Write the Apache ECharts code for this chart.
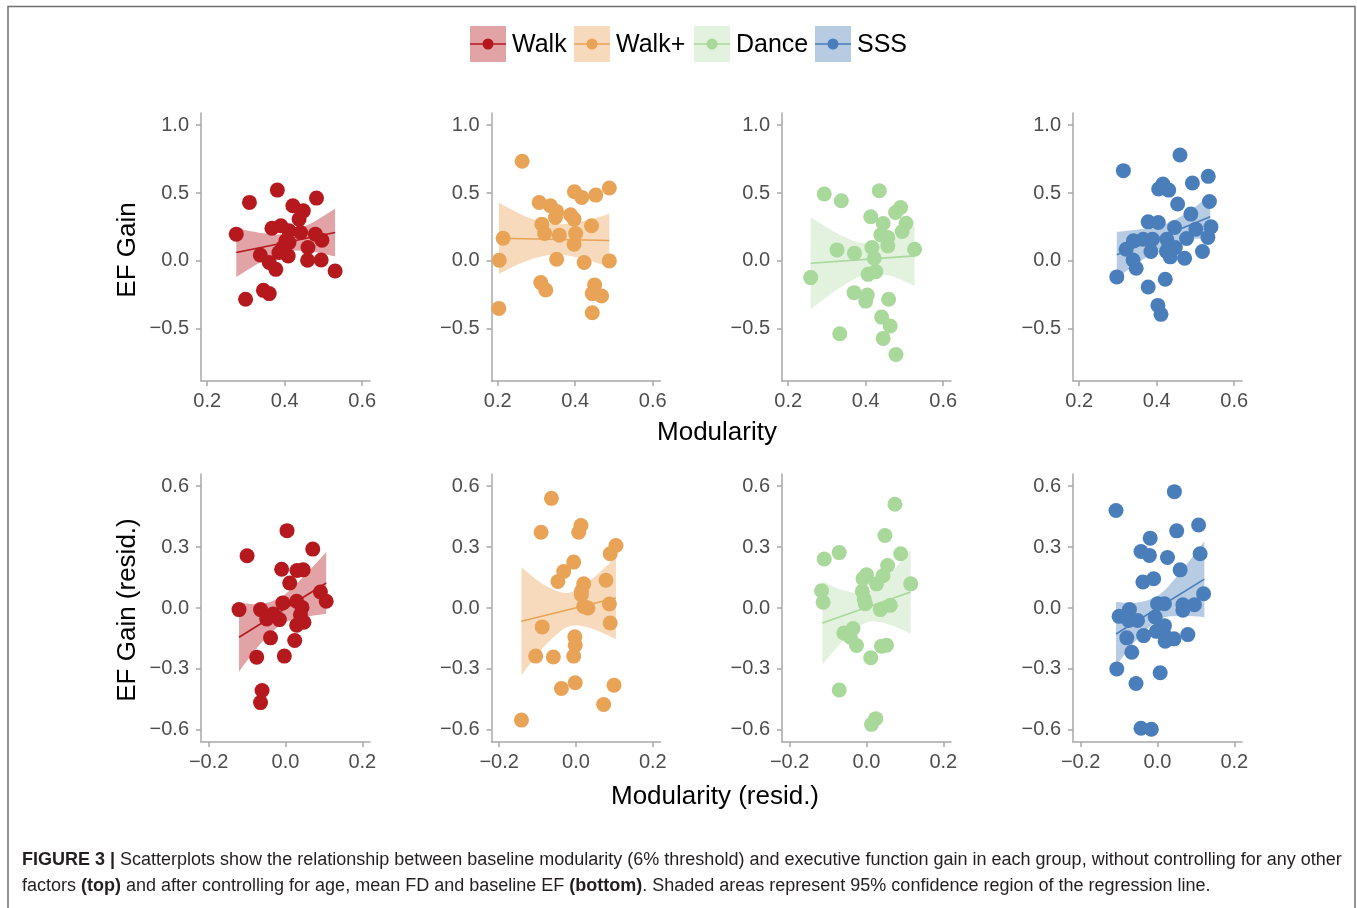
<!DOCTYPE html>
<html>
<head>
<meta charset="utf-8">
<script src="https://cdn.jsdelivr.net/npm/echarts@6/dist/echarts.min.js"></script>
<style>
html,body{margin:0;padding:0;background:#fff;}
#chart{width:1357px;height:908px;}
</style>
</head>
<body>
<div id="chart"></div>
<script>
// ---------- data ----------
const groups = ['Walk', 'Walk+', 'Dance', 'SSS'];
const groupColors = ['#b5191e', '#e8a356', '#a8d89a', '#4a7eba'];

const topXTicks = [0.2, 0.4, 0.6];
const topYTicks = [-0.5, 0, 0.5, 1.0];
const botXTicks = [-0.2, 0, 0.2];
const botYTicks = [-0.6, -0.3, 0, 0.3, 0.6];

// top row: Modularity vs EF Gain
const walkTopX = [0.275,0.309,0.381,0.482,0.421,0.448,0.437,0.367,0.39,0.411,0.441,0.479,0.496,0.403,0.411,0.395,0.385,0.409,0.337,0.36,0.377,0.46,0.459,0.494,0.53,0.345,0.36,0.299];
const walkTopY = [0.197,0.431,0.522,0.463,0.406,0.369,0.308,0.241,0.259,0.222,0.209,0.197,0.153,0.148,0.135,0.099,0.062,0.037,0.044,-0.012,-0.062,0.099,0.005,0.007,-0.074,-0.217,-0.241,-0.283];
const walkPlusTopX = [0.263,0.398,0.417,0.453,0.488,0.307,0.336,0.352,0.349,0.388,0.397,0.314,0.321,0.359,0.401,0.397,0.442,0.214,0.204,0.352,0.423,0.488,0.311,0.324,0.45,0.444,0.468,0.203,0.444];
const walkPlusTopY = [0.734,0.51,0.468,0.485,0.537,0.431,0.406,0.365,0.32,0.34,0.308,0.271,0.202,0.19,0.202,0.123,0.259,0.167,0.005,0.012,-0.012,0.0,-0.16,-0.214,-0.177,-0.241,-0.259,-0.35,-0.382];
const danceTopX = [0.293,0.337,0.435,0.49,0.477,0.413,0.445,0.504,0.494,0.439,0.457,0.457,0.416,0.526,0.326,0.371,0.422,0.426,0.406,0.258,0.37,0.404,0.4,0.459,0.333,0.441,0.463,0.445,0.478];
const danceTopY = [0.493,0.443,0.517,0.394,0.357,0.325,0.276,0.278,0.217,0.192,0.172,0.111,0.099,0.086,0.081,0.057,0.02,-0.079,-0.099,-0.123,-0.234,-0.251,-0.296,-0.283,-0.537,-0.414,-0.48,-0.571,-0.69];
const sssTopX = [0.314,0.46,0.492,0.533,0.416,0.405,0.431,0.454,0.536,0.488,0.378,0.404,0.446,0.501,0.54,0.532,0.477,0.34,0.365,0.389,0.426,0.431,0.448,0.321,0.385,0.425,0.435,0.472,0.518,0.339,0.347,0.297,0.422,0.378,0.403,0.411];
const sssTopY = [0.665,0.781,0.574,0.623,0.567,0.53,0.522,0.419,0.438,0.345,0.288,0.283,0.246,0.234,0.251,0.172,0.165,0.148,0.16,0.16,0.16,0.099,0.099,0.086,0.069,0.069,0.03,0.02,0.069,0.007,-0.054,-0.118,-0.135,-0.192,-0.328,-0.394];

// bottom row: Modularity (resid.) vs EF Gain (resid.)
const walkBotX = [0.004,-0.1,0.071,-0.01,0.03,0.046,0.011,0.091,0.106,-0.121,-0.065,-0.049,-0.032,-0.016,-0.007,0.029,0.043,0.039,0.048,0.029,-0.039,0.024,-0.075,-0.003,-0.061,-0.065];
const walkBotY = [0.381,0.257,0.29,0.191,0.185,0.188,0.123,0.079,0.033,-0.008,-0.008,-0.054,-0.029,-0.057,0.025,0.033,0.003,-0.033,-0.07,-0.085,-0.147,-0.16,-0.242,-0.237,-0.406,-0.466];
const walkPlusBotX = [-0.064,-0.091,0.013,0.007,0.104,0.089,-0.006,-0.032,-0.047,0.02,0.078,0.014,0.014,0.02,0.031,0.087,0.089,-0.088,-0.003,-0.002,-0.105,-0.059,-0.006,-0.002,-0.038,0.099,0.072,-0.142];
const walkPlusBotY = [0.54,0.373,0.406,0.373,0.308,0.267,0.226,0.18,0.131,0.119,0.137,0.082,0.065,0.008,0.0,0.02,-0.074,-0.093,-0.142,-0.183,-0.237,-0.241,-0.237,-0.368,-0.396,-0.38,-0.475,-0.552];
const danceBotX = [0.074,0.048,-0.071,-0.11,0.089,0.055,0.043,0.0,-0.009,0.026,0.115,-0.117,-0.113,-0.011,-0.006,-0.003,0.036,0.062,-0.059,-0.035,-0.042,-0.026,0.039,0.052,0.011,-0.071,0.024,0.013];
const danceBotY = [0.511,0.357,0.273,0.241,0.267,0.209,0.159,0.164,0.144,0.119,0.119,0.085,0.028,0.082,0.044,0.021,-0.008,0.013,-0.123,-0.101,-0.144,-0.185,-0.188,-0.183,-0.245,-0.404,-0.545,-0.573];
const sssBotX = [0.044,-0.108,0.107,0.05,-0.019,-0.043,-0.021,0.026,0.111,0.059,-0.038,-0.01,0.12,0.0,0.018,0.066,0.096,0.066,-0.1,-0.073,-0.075,-0.052,-0.006,0.018,-0.003,0.016,-0.036,-0.08,0.043,0.02,0.079,-0.067,-0.106,0.007,-0.056,-0.043,-0.016];
const sssBotY = [0.573,0.48,0.409,0.38,0.344,0.278,0.259,0.249,0.267,0.188,0.128,0.144,0.07,0.021,0.021,0.016,0.016,-0.011,-0.041,-0.008,-0.061,-0.061,-0.044,-0.087,-0.115,-0.126,-0.136,-0.147,-0.152,-0.164,-0.131,-0.218,-0.3,-0.319,-0.372,-0.592,-0.597];

// regression lines (end points)
const walkTopFitX = [0.275, 0.53],  walkTopFitY = [0.062, 0.209];
const walkPlusTopFitX = [0.203, 0.488], walkPlusTopFitY = [0.167, 0.15];
const danceTopFitX = [0.258, 0.526], danceTopFitY = [-0.017, 0.037];
const sssTopFitX = [0.297, 0.538], sssTopFitY = [0.045, 0.325];
const walkBotFitX = [-0.121, 0.106], walkBotFitY = [-0.144, 0.123];
const walkPlusBotFitX = [-0.142, 0.104], walkPlusBotFitY = [-0.065, 0.049];
const danceBotFitX = [-0.115, 0.115], danceBotFitY = [-0.074, 0.079];
const sssBotFitX = [-0.108, 0.122], sssBotFitY = [-0.128, 0.142];

// 95% confidence bands (x, lower, upper)
const walkTopBandX = [0.275,0.339,0.402,0.466,0.53];
const walkTopBandLo = [-0.118,-0.008,0.07,0.07,0.034];
const walkTopBandHi = [0.242,0.206,0.2,0.274,0.384];
const walkPlusTopBandX = [0.203,0.274,0.346,0.417,0.488];
const walkPlusTopBandLo = [-0.095,0.0,0.047,0.018,-0.045];
const walkPlusTopBandHi = [0.429,0.326,0.271,0.29,0.345];
const danceTopBandX = [0.258,0.325,0.392,0.459,0.526];
const danceTopBandLo = [-0.356,-0.214,-0.11,-0.107,-0.183];
const danceTopBandHi = [0.322,0.206,0.13,0.155,0.257];
const sssTopBandX = [0.297,0.357,0.418,0.478,0.538];
const sssTopBandLo = [-0.125,-0.004,0.105,0.157,0.165];
const sssTopBandHi = [0.215,0.234,0.267,0.355,0.485];
const walkBotBandX = [-0.121,-0.064,-0.008,0.049,0.106];
const walkBotBandLo = [-0.314,-0.174,-0.078,-0.045,-0.028];
const walkBotBandHi = [0.026,0.02,0.058,0.159,0.274];
const walkPlusBotBandX = [-0.142,-0.081,-0.019,0.043,0.104];
const walkPlusBotBandLo = [-0.331,-0.186,-0.091,-0.103,-0.153];
const walkPlusBotBandHi = [0.201,0.112,0.075,0.145,0.251];
const danceBotBandX = [-0.115,-0.058,0.0,0.058,0.115];
const danceBotBandLo = [-0.279,-0.158,-0.071,-0.081,-0.126];
const danceBotBandHi = [0.131,0.086,0.077,0.163,0.284];
const sssBotBandX = [-0.108,-0.051,0.007,0.065,0.122];
const sssBotBandLo = [-0.285,-0.149,-0.055,-0.04,-0.045];
const sssBotBandHi = [0.029,0.027,0.069,0.19,0.329];

// ---------- panels ----------
const panels = [
  {g:0,row:0,x:walkTopX,y:walkTopY,fx:walkTopFitX,fy:walkTopFitY,bx:walkTopBandX,lo:walkTopBandLo,hi:walkTopBandHi},
  {g:1,row:0,x:walkPlusTopX,y:walkPlusTopY,fx:walkPlusTopFitX,fy:walkPlusTopFitY,bx:walkPlusTopBandX,lo:walkPlusTopBandLo,hi:walkPlusTopBandHi},
  {g:2,row:0,x:danceTopX,y:danceTopY,fx:danceTopFitX,fy:danceTopFitY,bx:danceTopBandX,lo:danceTopBandLo,hi:danceTopBandHi},
  {g:3,row:0,x:sssTopX,y:sssTopY,fx:sssTopFitX,fy:sssTopFitY,bx:sssTopBandX,lo:sssTopBandLo,hi:sssTopBandHi},
  {g:0,row:1,x:walkBotX,y:walkBotY,fx:walkBotFitX,fy:walkBotFitY,bx:walkBotBandX,lo:walkBotBandLo,hi:walkBotBandHi},
  {g:1,row:1,x:walkPlusBotX,y:walkPlusBotY,fx:walkPlusBotFitX,fy:walkPlusBotFitY,bx:walkPlusBotBandX,lo:walkPlusBotBandLo,hi:walkPlusBotBandHi},
  {g:2,row:1,x:danceBotX,y:danceBotY,fx:danceBotFitX,fy:danceBotFitY,bx:danceBotBandX,lo:danceBotBandLo,hi:danceBotBandHi},
  {g:3,row:1,x:sssBotX,y:sssBotY,fx:sssBotFitX,fy:sssBotFitY,bx:sssBotBandX,lo:sssBotBandLo,hi:sssBotBandHi}
];

const FONT = "'Liberation Sans', Arial, Helvetica, sans-serif";
const AXIS_COLOR = '#a8a8a8';
const LABEL_COLOR = '#4d4d4d';
const panelLefts = [201, 491.5, 782, 1073];
const rowTops = [113, 474];
const PW = 169, PH = 268;

function fmt(v) {
  return (v < 0 ? '\u2212' : '') + Math.abs(v).toFixed(1);
}

// smooth path (Catmull-Rom -> cubic Bezier) through pixel points
function curveTo(pts) {
  let d = '';
  for (let i = 0; i < pts.length - 1; i++) {
    const p0 = pts[Math.max(i - 1, 0)], p1 = pts[i], p2 = pts[i + 1], p3 = pts[Math.min(i + 2, pts.length - 1)];
    const c1 = [p1[0] + (p2[0] - p0[0]) / 6, p1[1] + (p2[1] - p0[1]) / 6];
    const c2 = [p2[0] - (p3[0] - p1[0]) / 6, p2[1] - (p3[1] - p1[1]) / 6];
    d += ' C' + c1[0] + ' ' + c1[1] + ' ' + c2[0] + ' ' + c2[1] + ' ' + p2[0] + ' ' + p2[1];
  }
  return d;
}

function bandRenderer(p, color, opacity) {
  return function (params, api) {
    if (params.dataIndex !== 0) return null;
    const up = p.bx.map((x, k) => api.coord([x, p.hi[k]]));
    const dn = p.bx.map((x, k) => api.coord([x, p.lo[k]])).reverse();
    const d = 'M' + up[0][0] + ' ' + up[0][1] + curveTo(up) +
      ' L' + dn[0][0] + ' ' + dn[0][1] + curveTo(dn) + ' Z';
    return {
      type: 'path',
      shape: {pathData: d},
      style: {fill: color, opacity: opacity, stroke: null}
    };
  };
}

const grids = [], xAxes = [], yAxes = [], series = [];
panels.forEach((p, i) => {
  const col = p.g;
  grids.push({left: panelLefts[col], top: rowTops[p.row], width: PW, height: PH, containLabel: false});
  const xr = p.row === 0 ? [0.184, 0.62] : [-0.22, 0.22];
  const yr = p.row === 0 ? [-0.885, 1.09] : [-0.66, 0.66];
  const xt = p.row === 0 ? topXTicks : botXTicks;
  const yt = p.row === 0 ? topYTicks : botYTicks;
  xAxes.push({
    type: 'value', gridIndex: i, min: xr[0], max: xr[1],
    axisLine: {show: true, onZero: false, lineStyle: {color: AXIS_COLOR, width: 1.5}},
    axisTick: {show: true, inside: false, length: 5, customValues: xt, lineStyle: {color: AXIS_COLOR, width: 1.5}},
    axisLabel: {customValues: xt, formatter: fmt, color: LABEL_COLOR, fontSize: 20, fontFamily: FONT, margin: 10},
    splitLine: {show: false}
  });
  yAxes.push({
    type: 'value', gridIndex: i, min: yr[0], max: yr[1],
    axisLine: {show: true, onZero: false, lineStyle: {color: AXIS_COLOR, width: 1.5}},
    axisTick: {show: true, inside: false, length: 5, customValues: yt, lineStyle: {color: AXIS_COLOR, width: 1.5}},
    axisLabel: {customValues: yt, formatter: fmt, color: LABEL_COLOR, fontSize: 20, fontFamily: FONT, margin: 12},
    splitLine: {show: false}
  });
  const c = groupColors[p.g];
  const op = p.g === 2 ? 0.33 : 0.4;
  // confidence band
  series.push({
    type: 'custom', xAxisIndex: i, yAxisIndex: i,
    data: p.bx.map((x, k) => [x, p.lo[k], p.hi[k]]),
    encode: {x: 0, y: [1, 2]},
    renderItem: bandRenderer(p, c, op), silent: true, z: 1
  });
  // regression line
  series.push({
    type: 'line', xAxisIndex: i, yAxisIndex: i,
    data: p.fx.map((x, k) => [x, p.fy[k]]),
    symbol: 'none', lineStyle: {color: c, width: 1.6}, silent: true, z: 2
  });
  // points
  series.push({
    type: 'scatter', xAxisIndex: i, yAxisIndex: i, name: groups[p.g],
    data: p.x.map((x, k) => [x, p.y[k]]),
    symbolSize: 15, itemStyle: {color: c, opacity: 1}, z: 3
  });
});

// ---------- graphics: legend, titles, caption, frame ----------
const legendBoxX = [470, 574, 694, 815];
const graphic = [];
graphic.push({
  type: 'polyline', silent: true,
  shape: {points: [[8, 908], [8, 6.5], [1355, 6.5], [1355, 908]]},
  style: {stroke: '#707070', lineWidth: 1.5, fill: null}
});
groups.forEach((name, k) => {
  const bx = legendBoxX[k];
  graphic.push({type: 'rect', shape: {x: bx, y: 26, width: 36, height: 36},
    style: {fill: groupColors[k], opacity: k === 2 ? 0.33 : 0.4}});
  graphic.push({type: 'line', shape: {x1: bx, y1: 44, x2: bx + 36, y2: 44},
    style: {stroke: groupColors[k], lineWidth: 1.6}});
  graphic.push({type: 'circle', shape: {cx: bx + 18, cy: 44, r: 5.5},
    style: {fill: groupColors[k]}});
  graphic.push({type: 'text', x: bx + 42, y: 45,
    style: {text: name, font: '25px ' + FONT, fill: '#000', textVerticalAlign: 'middle', textAlign: 'left'}});
});
graphic.push({type: 'text', x: 128, y: 250, rotation: Math.PI / 2,
  style: {text: 'EF Gain', font: '26px ' + FONT, fill: '#000', textAlign: 'center', textVerticalAlign: 'middle'}});
graphic.push({type: 'text', x: 128, y: 610, rotation: Math.PI / 2,
  style: {text: 'EF Gain (resid.)', font: '26px ' + FONT, fill: '#000', textAlign: 'center', textVerticalAlign: 'middle'}});
graphic.push({type: 'text', x: 717, y: 433,
  style: {text: 'Modularity', font: '26px ' + FONT, fill: '#000', textAlign: 'center', textVerticalAlign: 'middle'}});
graphic.push({type: 'text', x: 715, y: 797,
  style: {text: 'Modularity (resid.)', font: '26px ' + FONT, fill: '#000', textAlign: 'center', textVerticalAlign: 'middle'}});
graphic.push({type: 'text', x: 22, y: 860,
  style: {
    text: '{b|FIGURE 3 |} Scatterplots show the relationship between baseline modularity (6% threshold) and executive function gain in each group, without controlling for any other',
    font: '18px ' + FONT, fill: '#231f20', textVerticalAlign: 'middle',
    rich: {b: {fontWeight: 'bold', fontSize: 18, fontFamily: FONT, fill: '#231f20'}}
  }});
graphic.push({type: 'text', x: 22, y: 886,
  style: {
    text: 'factors {b|(top)} and after controlling for age, mean FD and baseline EF {b|(bottom)}. Shaded areas represent 95% confidence region of the regression line.',
    font: '18px ' + FONT, fill: '#231f20', textVerticalAlign: 'middle',
    rich: {b: {fontWeight: 'bold', fontSize: 18, fontFamily: FONT, fill: '#231f20'}}
  }});

const chart = echarts.init(document.getElementById('chart'), null, {renderer: 'canvas'});
chart.setOption({
  animation: false,
  backgroundColor: '#fff',
  textStyle: {fontFamily: FONT},
  grid: grids, xAxis: xAxes, yAxis: yAxes, series: series,
  graphic: graphic
});
</script>
</body>
</html>
